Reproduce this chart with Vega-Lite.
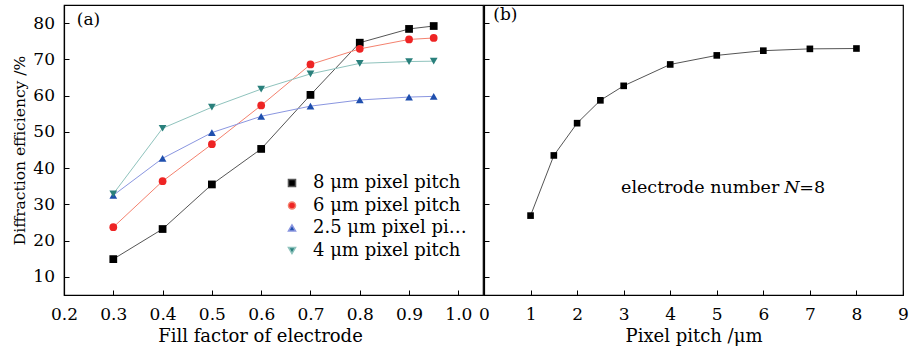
{
  "$schema": "https://vega.github.io/schema/vega-lite/v6.json",
  "autosize": {"type": "pad"},
  "padding": {"left": 12, "top": 4, "right": 5, "bottom": 5},
  "spacing": 1,
  "bounds": "flush",
  "background": "white",
  "resolve": {"scale": {"fill": "independent", "shape": "independent", "stroke": "independent", "color": "independent"}, "legend": {"fill": "independent", "shape": "independent", "stroke": "independent", "color": "independent"}},
  "config": {
    "font": "DejaVu Serif",
    "view": {"stroke": "black", "strokeWidth": 1.2},
    "axis": {
      "labelFont": "DejaVu Serif", "titleFont": "DejaVu Serif",
      "labelFontSize": 17, "titleFontSize": 18, "titleFontWeight": "normal",
      "labelColor": "black", "titleColor": "black",
      "domainColor": "black", "domainWidth": 1.2, "tickColor": "black", "tickWidth": 1,
      "grid": false, "tickSize": -5, "labelFlush": false, "labelOverlap": false, "labelBound": false
    },
    "legend": {"labelFont": "DejaVu Serif", "labelFontSize": 18, "labelColor": "black"}
  },
  "datasets": {
    "a": [
      {"series": "8 μm pixel pitch", "ff": 0.3, "eff": 14.9},
      {"series": "8 μm pixel pitch", "ff": 0.4, "eff": 23.2},
      {"series": "8 μm pixel pitch", "ff": 0.5, "eff": 35.5},
      {"series": "8 μm pixel pitch", "ff": 0.6, "eff": 45.3},
      {"series": "8 μm pixel pitch", "ff": 0.7, "eff": 60.2},
      {"series": "8 μm pixel pitch", "ff": 0.8, "eff": 74.6},
      {"series": "8 μm pixel pitch", "ff": 0.9, "eff": 78.4},
      {"series": "8 μm pixel pitch", "ff": 0.95, "eff": 79.2},
      {"series": "6 μm pixel pitch", "ff": 0.3, "eff": 23.7},
      {"series": "6 μm pixel pitch", "ff": 0.4, "eff": 36.4},
      {"series": "6 μm pixel pitch", "ff": 0.5, "eff": 46.6},
      {"series": "6 μm pixel pitch", "ff": 0.6, "eff": 57.3},
      {"series": "6 μm pixel pitch", "ff": 0.7, "eff": 68.6},
      {"series": "6 μm pixel pitch", "ff": 0.8, "eff": 72.9},
      {"series": "6 μm pixel pitch", "ff": 0.9, "eff": 75.5},
      {"series": "6 μm pixel pitch", "ff": 0.95, "eff": 75.9},
      {"series": "2.5 μm pixel pitch", "ff": 0.3, "eff": 32.5},
      {"series": "2.5 μm pixel pitch", "ff": 0.4, "eff": 42.7},
      {"series": "2.5 μm pixel pitch", "ff": 0.5, "eff": 49.8},
      {"series": "2.5 μm pixel pitch", "ff": 0.6, "eff": 54.3},
      {"series": "2.5 μm pixel pitch", "ff": 0.7, "eff": 57.1},
      {"series": "2.5 μm pixel pitch", "ff": 0.8, "eff": 58.8},
      {"series": "2.5 μm pixel pitch", "ff": 0.9, "eff": 59.6},
      {"series": "2.5 μm pixel pitch", "ff": 0.95, "eff": 59.8},
      {"series": "4 μm pixel pitch", "ff": 0.3, "eff": 32.9},
      {"series": "4 μm pixel pitch", "ff": 0.4, "eff": 51.0},
      {"series": "4 μm pixel pitch", "ff": 0.5, "eff": 56.8},
      {"series": "4 μm pixel pitch", "ff": 0.6, "eff": 61.8},
      {"series": "4 μm pixel pitch", "ff": 0.7, "eff": 66.0},
      {"series": "4 μm pixel pitch", "ff": 0.8, "eff": 68.9},
      {"series": "4 μm pixel pitch", "ff": 0.9, "eff": 69.4},
      {"series": "4 μm pixel pitch", "ff": 0.95, "eff": 69.5}
    ],
    "b": [
      {"pitch": 1, "eff": 26.9},
      {"pitch": 1.5, "eff": 43.5},
      {"pitch": 2, "eff": 52.4},
      {"pitch": 2.5, "eff": 58.7},
      {"pitch": 3, "eff": 62.7},
      {"pitch": 4, "eff": 68.6},
      {"pitch": 5, "eff": 71.1},
      {"pitch": 6, "eff": 72.4},
      {"pitch": 7, "eff": 72.9},
      {"pitch": 8, "eff": 73.0}
    ]
  },
  "hconcat": [
    {
      "width": 419,
      "height": 290,
      "layer": [
        {
          "data": {"name": "a"},
          "mark": {"type": "line", "strokeWidth": 1},
          "encoding": {
            "x": {"field": "ff", "type": "quantitative", "scale": {"domain": [0.2, 1.05], "nice": false, "zero": false},
              "axis": {"title": "Fill factor of electrode", "titleX": 196, "titlePadding": 5, "labelPadding": 16,
                "values": [0.2, 0.25, 0.3, 0.35, 0.4, 0.45, 0.5, 0.55, 0.6, 0.65, 0.7, 0.75, 0.8, 0.85, 0.9, 0.95, 1.0],
                "labelExpr": "round(datum.value*20) % 2 == 0 ? format(datum.value, '.1f') : ''"}},
            "y": {"field": "eff", "type": "quantitative", "scale": {"domain": [5, 85], "nice": false, "zero": false},
              "axis": {"title": "Diffraction efficiency /%", "titleFontSize": 15.5, "titlePadding": 5, "labelPadding": 14.5,
                "values": [10, 15, 20, 25, 30, 35, 40, 45, 50, 55, 60, 65, 70, 75, 80],
                "labelExpr": "datum.value % 10 == 0 ? datum.label : ''"}},
            "stroke": {"field": "series", "type": "nominal",
              "scale": {"domain": ["8 μm pixel pitch", "6 μm pixel pitch", "2.5 μm pixel pitch", "4 μm pixel pitch"],
                "range": ["#555555", "#f4826f", "#8a96e0", "#8fc3bd"]},
              "legend": {"title": null, "orient": "none", "legendX": 219, "legendY": 169, "padding": 0,
                "symbolSize": 50, "labelOffset": 12, "rowPadding": 4.5}}
          }
        },
        {
          "data": {"name": "a"},
          "mark": {"type": "point", "filled": true, "opacity": 1, "strokeWidth": 0, "size": 60},
          "encoding": {
            "x": {"field": "ff", "type": "quantitative"},
            "y": {"field": "eff", "type": "quantitative"},
            "fill": {"field": "series", "type": "nominal",
              "scale": {"domain": ["8 μm pixel pitch", "6 μm pixel pitch", "2.5 μm pixel pitch", "4 μm pixel pitch"],
                "range": ["#000000", "#ee2424", "#1f4fae", "#2a807c"]},
              "legend": {"title": null, "orient": "none", "legendX": 219, "legendY": 169, "padding": 0,
                "symbolSize": 50, "labelOffset": 12, "rowPadding": 4.5}},
            "shape": {"field": "series", "type": "nominal",
              "scale": {"domain": ["8 μm pixel pitch", "6 μm pixel pitch", "2.5 μm pixel pitch", "4 μm pixel pitch"],
                "range": ["square", "circle", "triangle-up", "triangle-down"]},
              "legend": {"title": null, "orient": "none", "legendX": 219, "legendY": 169, "padding": 0,
                "symbolSize": 50, "labelOffset": 12, "rowPadding": 4.5}}
          }
        },
        {
          "data": {"values": [{"label": "(a)", "x": 0.226, "y": 80.9}]},
          "mark": {"type": "text", "align": "left", "baseline": "middle", "fontSize": 17, "font": "DejaVu Serif", "color": "black"},
          "encoding": {
            "x": {"field": "x", "type": "quantitative"},
            "y": {"field": "y", "type": "quantitative"},
            "text": {"field": "label"}
          }
        }
      ]
    },
    {
      "width": 419,
      "height": 290,
      "layer": [
        {
          "data": {"name": "b"},
          "mark": {"type": "line", "strokeWidth": 1, "color": "#555555"},
          "encoding": {
            "x": {"field": "pitch", "type": "quantitative", "scale": {"domain": [0, 9], "nice": false, "zero": false},
              "axis": {"title": "Pixel pitch /μm", "titlePadding": 5, "labelPadding": 16,
                "values": [0, 0.5, 1, 1.5, 2, 2.5, 3, 3.5, 4, 4.5, 5, 5.5, 6, 6.5, 7, 7.5, 8, 8.5, 9],
                "labelExpr": "datum.value % 1 == 0 ? datum.label : ''"}},
            "y": {"field": "eff", "type": "quantitative", "scale": {"domain": [5, 85], "nice": false, "zero": false},
              "axis": {"title": null, "labels": false,
                "values": [10, 15, 20, 25, 30, 35, 40, 45, 50, 55, 60, 65, 70, 75, 80]}}
          }
        },
        {
          "data": {"name": "b"},
          "mark": {"type": "square", "size": 44, "color": "black", "opacity": 1},
          "encoding": {
            "x": {"field": "pitch", "type": "quantitative"},
            "y": {"field": "eff", "type": "quantitative"}
          }
        },
        {
          "data": {"values": [{"label": "(b)", "x": 0.2, "y": 82.2}]},
          "mark": {"type": "text", "align": "left", "baseline": "middle", "fontSize": 17, "font": "DejaVu Serif", "color": "black"},
          "encoding": {
            "x": {"field": "x", "type": "quantitative"},
            "y": {"field": "y", "type": "quantitative"},
            "text": {"field": "label"}
          }
        },
        {
          "data": {"values": [{"label": "electrode number", "x": 6.45, "y": 34.4}]},
          "mark": {"type": "text", "align": "right", "baseline": "middle", "fontSize": 17.5, "font": "DejaVu Serif", "color": "black", "dx": -5},
          "encoding": {
            "x": {"field": "x", "type": "quantitative"},
            "y": {"field": "y", "type": "quantitative"},
            "text": {"field": "label"}
          }
        },
        {
          "data": {"values": [{"label": "N", "x": 6.45, "y": 34.4}]},
          "mark": {"type": "text", "align": "left", "baseline": "middle", "fontSize": 17.5, "font": "DejaVu Serif", "fontStyle": "italic", "color": "black"},
          "encoding": {
            "x": {"field": "x", "type": "quantitative"},
            "y": {"field": "y", "type": "quantitative"},
            "text": {"field": "label"}
          }
        },
        {
          "data": {"values": [{"label": "=8", "x": 6.45, "y": 34.4}]},
          "mark": {"type": "text", "align": "left", "baseline": "middle", "fontSize": 17.5, "font": "DejaVu Serif", "color": "black", "dx": 15},
          "encoding": {
            "x": {"field": "x", "type": "quantitative"},
            "y": {"field": "y", "type": "quantitative"},
            "text": {"field": "label"}
          }
        }
      ]
    }
  ]
}
